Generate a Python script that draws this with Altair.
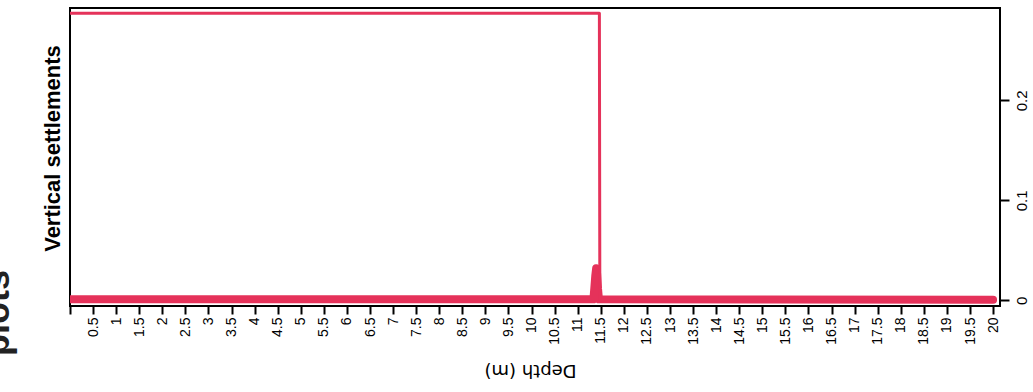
import altair as alt
import pandas as pd

# Final settlement profile: plateau over the upper layer, then a sharp drop
depth_final = [0, 11.47, 11.48, 20]
settle_final = [0.287, 0.287, 0.0005, 0.0005]

# Early-stage settlement profile, almost flat with a local spike near 11.4 m
depth_early = [0, 5, 11.34, 11.36, 11.38, 11.40, 11.42, 11.44, 11.46, 15, 20]
settle_early = [0.001, 0.001, 0.001, 0.012, 0.024, 0.032, 0.027, 0.012, 0.001, 0.0008, 0.0005]

depth_ticks = [0, 0.5, 1, 1.5, 2, 2.5, 3, 3.5, 4, 4.5, 5, 5.5, 6, 6.5, 7, 7.5, 8, 8.5,
               9, 9.5, 10, 10.5, 11, 11.5, 12, 12.5, 13, 13.5, 14, 14.5, 15, 15.5,
               16, 16.5, 17, 17.5, 18, 18.5, 19, 19.5, 20]
settle_ticks = [0, 0.1, 0.2]

heading = ["plots"]

LINE_COLOR = "#e5325a"

final_df = pd.DataFrame({"depth": depth_final, "settlement": settle_final,
                         "idx": list(range(len(depth_final)))})
early_df = pd.DataFrame({"depth": depth_early, "settlement": settle_early,
                         "idx": list(range(len(depth_early)))})
heading_df = pd.DataFrame({"t": heading})

x_enc = alt.X(
    "depth:Q",
    scale=alt.Scale(domain=[0, 20.15], nice=False, zero=False),
    axis=alt.Axis(
        values=depth_ticks, format=".1~f",
        labelExpr="datum.value == 0 ? '' : datum.label",
        labelAngle=270, labelAlign="right", labelBaseline="middle",
        labelFont="Liberation Sans", labelFontSize=14, labelColor="black",
        labelPadding=3, labelOverlap=False, labelFlush=False,
        tickSize=8, tickWidth=2, tickColor="black",
        domain=False, grid=False,
        title="Depth (m)", titleAngle=180, titleFont="DejaVu Sans",
        titleFontSize=18, titleFontWeight="normal", titleColor="black",
        titleX=460, titleY=63, titleAlign="center", titleBaseline="middle",
    ),
)

y_enc = alt.Y(
    "settlement:Q",
    scale=alt.Scale(domain=[-0.0057, 0.2923], nice=False, zero=False),
    axis=alt.Axis(
        orient="right", values=settle_ticks, format="~g",
        labelAngle=270, labelAlign="center", labelBaseline="top",
        labelFont="Liberation Sans", labelFontSize=15, labelColor="black",
        labelPadding=5, labelOverlap=False, labelFlush=False,
        tickSize=9, tickWidth=2, tickColor="black",
        domain=False, grid=False,
        title="Vertical settlements", titleAngle=270,
        titleFont="Liberation Sans", titleFontSize=22, titleFontWeight="bold",
        titleColor="black", titleX=-948, titleY=140,
        titleAlign="center", titleBaseline="middle",
    ),
)

early = alt.Chart(early_df).mark_line(
    color=LINE_COLOR, strokeWidth=8, strokeCap="round", strokeJoin="round", clip=True
).encode(x=x_enc, y=y_enc, order="idx:Q")

final = alt.Chart(final_df).mark_line(
    color=LINE_COLOR, strokeWidth=3, strokeJoin="round", clip=True
).encode(x=x_enc, y=y_enc, order="idx:Q")

head = alt.Chart(heading_df).mark_text(
    angle=270, align="right", baseline="alphabetic",
    font="Liberation Sans", fontSize=36, fontWeight="bold", color="#222222"
).encode(text="t:N", x=alt.value(-61), y=alt.value(262))

chart = alt.layer(early, final, head).properties(
    width=930, height=298,
    padding={"left": 70, "top": 8, "right": 33, "bottom": 86},
    autosize=alt.AutoSizeParams(type="none"),
    background="white",
).configure_view(stroke="black", strokeWidth=2)

chart.save("out.html", embed_options={"renderer": "svg", "actions": False})
